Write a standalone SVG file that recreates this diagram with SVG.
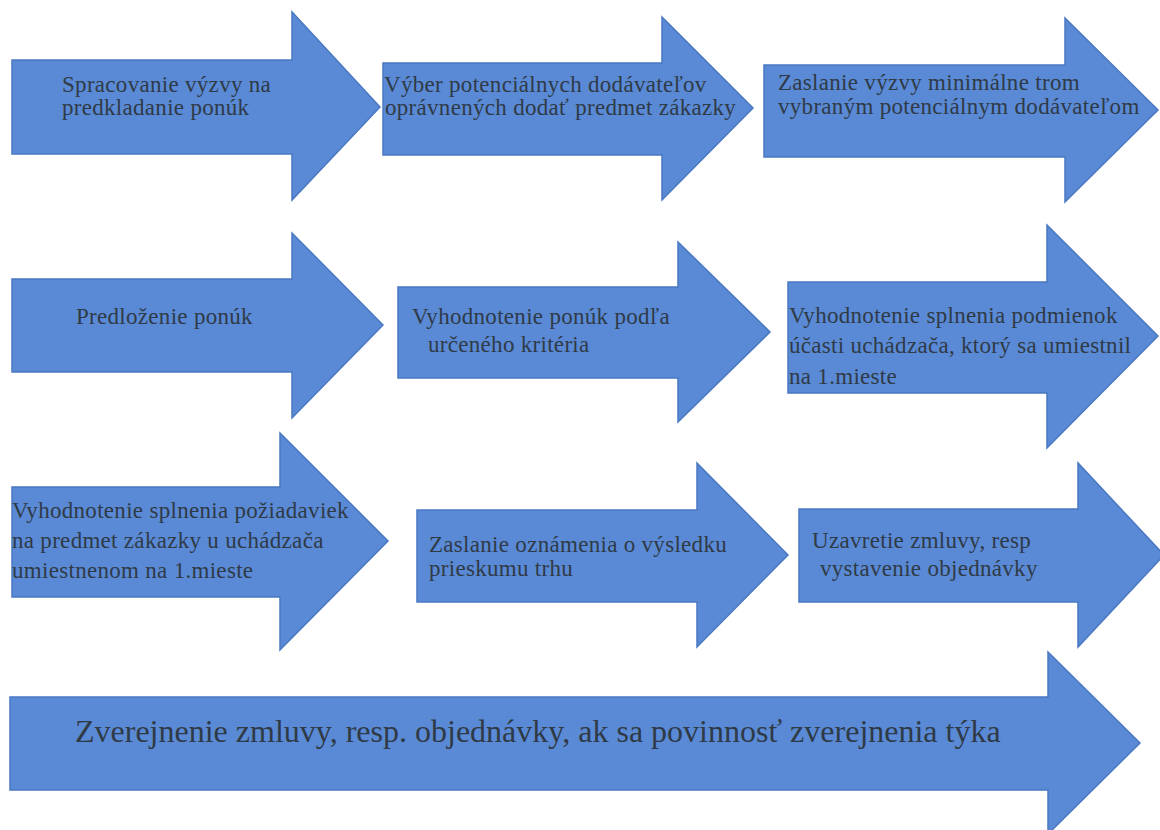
<svg xmlns="http://www.w3.org/2000/svg" width="1160" height="830" viewBox="0 0 1160 830">
<style>
.arrow{fill:#5a8ad5;stroke:#4a78c2;stroke-width:1.5;stroke-linejoin:miter}
.t{font-family:"Liberation Serif","Times New Roman",serif;font-size:23px;letter-spacing:0.3px;fill:#2f3a47}
.tb{font-family:"Liberation Serif","Times New Roman",serif;font-size:32px;fill:#2f3a47}
</style>
<rect width="1160" height="830" fill="#ffffff"/>
<g id="connectors"></g>
<g id="n1">
<polygon class="arrow" points="12,60 292,60 292,12 380,107 292,200 292,154 12,154"/>
<text class="t" x="62" y="92">Spracovanie výzvy na</text>
<text class="t" x="62" y="115">predkladanie ponúk</text>
</g>
<g id="n2">
<polygon class="arrow" points="383,63 662,63 662,17 753,108 662,200 662,155 383,155"/>
<text class="t" x="384" y="92">Výber potenciálnych dodávateľov</text>
<text class="t" x="385" y="115">oprávnených dodať predmet zákazky</text>
</g>
<g id="n3">
<polygon class="arrow" points="764,65 1065,65 1065,18 1158,110 1065,202 1065,157 764,157"/>
<text class="t" x="778" y="90">Zaslanie výzvy minimálne trom</text>
<text class="t" x="778" y="114">vybraným potenciálnym dodávateľom</text>
</g>
<g id="n4">
<polygon class="arrow" points="12,279 292,279 292,233 383,325 292,418 292,372 12,372"/>
<text class="t" x="76" y="324">Predloženie ponúk</text>
</g>
<g id="n5">
<polygon class="arrow" points="398,287 678,287 678,242 770,332 678,422 678,378 398,378"/>
<text class="t" x="412" y="324">Vyhodnotenie ponúk podľa</text>
<text class="t" x="428" y="352">určeného kritéria</text>
</g>
<g id="n6">
<polygon class="arrow" points="788,282 1047,282 1047,225 1158,336 1047,448 1047,393 788,393"/>
<text class="t" x="789" y="323">Vyhodnotenie splnenia podmienok</text>
<text class="t" x="789" y="353">účasti uchádzača, ktorý sa umiestnil</text>
<text class="t" x="789" y="384">na 1.mieste</text>
</g>
<g id="n7">
<polygon class="arrow" points="12,487 280,487 280,433 388,541 280,650 280,597 12,597"/>
<text class="t" x="12" y="518">Vyhodnotenie splnenia požiadaviek</text>
<text class="t" x="12" y="548">na predmet zákazky u uchádzača</text>
<text class="t" x="12" y="578">umiestnenom na 1.mieste</text>
</g>
<g id="n8">
<polygon class="arrow" points="417,510 697,510 697,463 788,555 697,647 697,602 417,602"/>
<text class="t" x="429" y="552">Zaslanie oznámenia o výsledku</text>
<text class="t" x="429" y="576">prieskumu trhu</text>
</g>
<g id="n9">
<polygon class="arrow" points="799,509 1078,509 1078,463 1164,555 1078,647 1078,602 799,602"/>
<text class="t" x="812" y="548">Uzavretie zmluvy, resp</text>
<text class="t" x="820" y="576">vystavenie objednávky</text>
</g>
<g id="n10">
<polygon class="arrow" points="10,697 1048,697 1048,652 1140,743 1048,834 1048,790 10,790"/>
<text class="tb" x="75" y="742">Zverejnenie zmluvy, resp. objednávky, ak sa povinnosť zverejnenia týka</text>
</g>
</svg>
